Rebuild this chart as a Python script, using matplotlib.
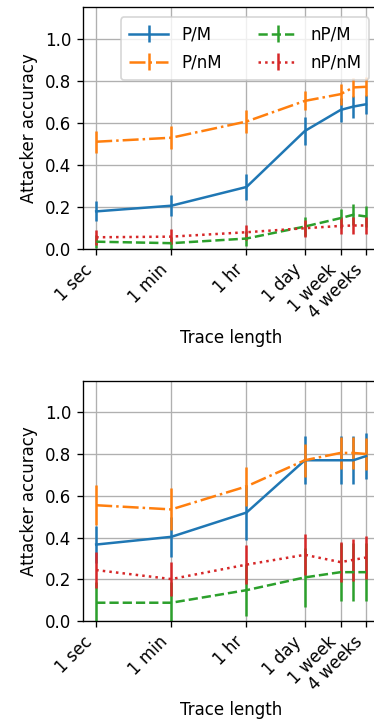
import matplotlib
matplotlib.use("Agg")
import matplotlib.pyplot as plt
import numpy as np

# trace lengths in seconds
longitudes = [1, 60, 3600, 86400, 604800, 1209600, 2419200]
ticks_pos = [1, 60, 3600, 86400, 604800, 2419200]
ticks_txt = ['1 sec', '1 min', '1 hr', '1 day', '1 week', '4 weeks']

nombres = ['P/M', 'P/nM', 'nP/M', 'nP/nM']
estilos = ['-', '-.', '--', ':']
colores = ['#1f77b4', '#ff7f0e', '#2ca02c', '#d62728']

# grafico de arriba
arriba_pm = [0.180, 0.207, 0.296, 0.562, 0.662, 0.678, 0.689]
arriba_pm_err = [0.048, 0.050, 0.060, 0.066, 0.057, 0.052, 0.046]
arriba_pnm = [0.511, 0.530, 0.607, 0.705, 0.737, 0.769, 0.772]
arriba_pnm_err = [0.053, 0.055, 0.053, 0.045, 0.050, 0.045, 0.045]
arriba_npm = [0.036, 0.029, 0.051, 0.108, 0.148, 0.164, 0.156]
arriba_npm_err = [0.030, 0.030, 0.035, 0.045, 0.045, 0.050, 0.050]
arriba_npnm = [0.057, 0.060, 0.081, 0.100, 0.111, 0.113, 0.113]
arriba_npnm_err = [0.035, 0.035, 0.035, 0.040, 0.040, 0.040, 0.040]

# grafico de abajo
abajo_pm = [0.367, 0.404, 0.520, 0.770, 0.770, 0.770, 0.790]
abajo_pm_err = [0.090, 0.095, 0.130, 0.115, 0.115, 0.115, 0.110]
abajo_pnm = [0.555, 0.535, 0.645, 0.770, 0.805, 0.805, 0.800]
abajo_pnm_err = [0.095, 0.100, 0.094, 0.080, 0.078, 0.078, 0.078]
abajo_npm = [0.089, 0.089, 0.149, 0.210, 0.235, 0.235, 0.235]
abajo_npm_err = [0.100, 0.100, 0.124, 0.140, 0.140, 0.140, 0.140]
abajo_npnm = [0.245, 0.202, 0.271, 0.318, 0.283, 0.294, 0.305]
abajo_npnm_err = [0.088, 0.082, 0.093, 0.098, 0.095, 0.100, 0.105]


def dibujar(ax, series, errores, leyenda):
    for y, e, nombre, ls, c in zip(series, errores, nombres, estilos, colores):
        ax.errorbar(longitudes, y, yerr=e, linestyle=ls, color=c, label=nombre,
                    linewidth=1.5, elinewidth=1.5, capsize=0)
    ax.set_xscale('log')
    ax.set_xticks(ticks_pos)
    ax.set_xticklabels(ticks_txt, rotation=45, ha='right')
    ax.minorticks_off()
    ax.set_ylim(0, 1.15)
    ax.set_yticks([0.0, 0.2, 0.4, 0.6, 0.8, 1.0])
    ax.set_ylabel('Attacker accuracy')
    ax.set_xlabel('Trace length')
    ax.grid(True)
    if leyenda:
        ax.legend(ncol=2, loc='upper right', handlelength=2.3, columnspacing=2.2,
                  labelspacing=0.6, borderpad=0.5, borderaxespad=0.6)


# 120 dpi para que el texto salga del mismo tamaño que el original
fig = plt.figure(figsize=(374 / 120, 724 / 120), dpi=120)
ax1 = fig.add_axes([0.2211, 0.6557, 0.7936, 0.3343])
ax2 = fig.add_axes([0.2211, 0.1418, 0.7936, 0.3323])

dibujar(ax1, [arriba_pm, arriba_pnm, arriba_npm, arriba_npnm],
        [arriba_pm_err, arriba_pnm_err, arriba_npm_err, arriba_npnm_err], True)
dibujar(ax2, [abajo_pm, abajo_pnm, abajo_npm, abajo_npnm],
        [abajo_pm_err, abajo_pnm_err, abajo_npm_err, abajo_npnm_err], False)

plt.savefig('out.png', dpi=120)
plt.close()
